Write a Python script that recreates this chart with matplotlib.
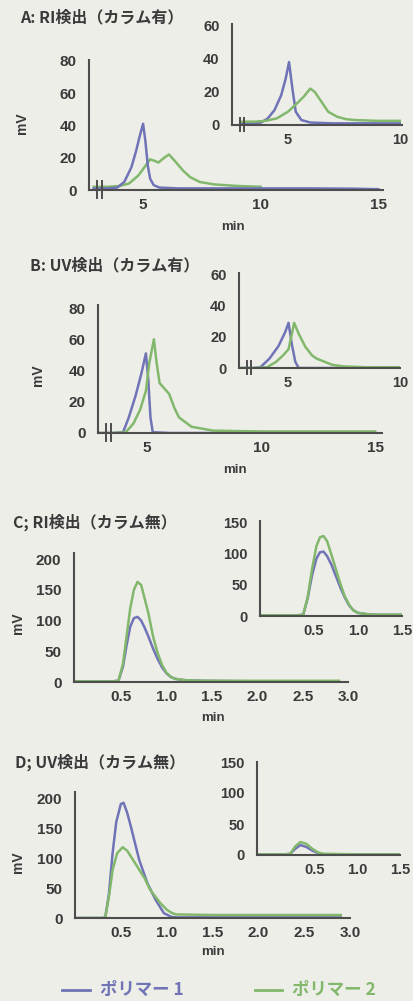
import matplotlib
matplotlib.use("Agg")
import matplotlib.pyplot as plt
from matplotlib.transforms import blended_transform_factory

plt.rcParams["font.family"] = ["Liberation Sans", "Noto Sans CJK JP", "DejaVu Sans"]

# colours
BG = "#eeeee9"
AXC = "#4d4d4d"
TXT = "#3a3a3a"
C1 = "#7073b5"   # polymer 1
C2 = "#82b86c"   # polymer 2

series_names = ["ポリマー 1", "ポリマー 2"]

# ---- A: RI detection, with column (main) ----
a_t1 = [2.9, 3.5, 3.9, 4.2, 4.5, 4.7, 4.85, 5.0, 5.1, 5.2, 5.3, 5.45, 5.7, 6.5, 8, 10, 12, 14, 15]
a_v1 = [1, 1, 1.5, 5, 14, 24, 33, 41, 30, 15, 7, 3, 1.5, 1, 1, 1, 1, 0.8, 0.5]
a_t2 = [2.9, 3.5, 4.0, 4.4, 4.8, 5.1, 5.3, 5.5, 5.65, 5.9, 6.1, 6.35, 6.7, 7.0, 7.4, 8.0, 9.0, 10.0]
a_v2 = [2, 2, 2.5, 4, 9, 15, 19, 18, 17, 20, 22, 18, 12, 8, 5, 3.5, 2.5, 2]
# inset
ai_t1 = [2.9, 3.5, 3.8, 4.1, 4.4, 4.7, 4.9, 5.05, 5.2, 5.35, 5.6, 6.0, 7, 8, 9, 10]
ai_v1 = [1, 1, 1.5, 4, 9, 18, 28, 38, 22, 8, 3, 1.5, 1, 1, 1, 1]
ai_t2 = [2.9, 3.5, 4.0, 4.5, 5.0, 5.4, 5.7, 6.0, 6.2, 6.5, 6.8, 7.2, 7.6, 8.0, 9.0, 10]
ai_v2 = [2, 2, 2.5, 4, 8, 13, 17, 22, 20, 14, 8, 5, 3.5, 3, 2.5, 2.5]

# ---- B: UV detection, with column ----
b_t1 = [2.9, 3.5, 3.95, 4.2, 4.5, 4.75, 4.95, 5.05, 5.15, 5.25, 6, 8, 10, 15]
b_v1 = [0, 0, 0.5, 10, 24, 38, 51, 35, 10, 0.5, 0, 0, 0, 0]
b_t2 = [2.9, 3.5, 4.07, 4.4, 4.7, 4.95, 5.1, 5.3, 5.42, 5.55, 5.97, 6.2, 6.4, 6.95, 7.9, 10, 15]
b_v2 = [0, 0, 0.5, 6, 15, 27, 45, 60, 45, 32, 25, 16, 10, 4, 1.5, 1, 1]
bi_t1 = [2.9, 3.5, 3.8, 4.2, 4.6, 4.9, 5.05, 5.2, 5.35, 5.5, 6, 8, 10]
bi_v1 = [0, 0, 0.5, 6, 14, 23, 29, 15, 4, 0, 0, 0, 0]
bi_t2 = [2.9, 3.5, 4.1, 4.5, 4.8, 5.05, 5.2, 5.3, 5.5, 5.8, 6.1, 6.3, 7.0, 7.5, 8.5, 10]
bi_v2 = [0, 0, 0.5, 4, 8, 12, 22, 29, 22, 13.5, 8, 6, 2, 1, 0.5, 0.5]

# ---- C: RI detection, no column ----
c_t = [0, 0.4, 0.47, 0.52, 0.56, 0.6, 0.64, 0.68, 0.72, 0.76, 0.8, 0.85, 0.9, 0.95, 1.0, 1.05, 1.1, 1.2, 1.4, 2.0, 2.9]
c_v1 = [1, 1, 2, 25, 60, 90, 104, 106, 100, 88, 74, 55, 38, 24, 14, 8, 5, 3, 2, 1, 1]
c_v2 = [1, 1, 2, 30, 75, 120, 150, 163, 158, 135, 112, 75, 48, 28, 15, 8, 5, 3, 2, 2, 2]
ci_t = [-0.1, 0.3, 0.38, 0.43, 0.48, 0.53, 0.57, 0.61, 0.65, 0.7, 0.75, 0.8, 0.85, 0.9, 0.95, 1.0, 1.1, 1.2, 1.5]
ci_v1 = [1, 1, 2, 28, 65, 92, 102, 103, 96, 82, 64, 46, 30, 17, 9, 5, 3, 2, 2]
ci_v2 = [1, 1, 2, 30, 75, 112, 126, 128, 120, 98, 75, 52, 32, 18, 9, 5, 3, 2, 2]

# ---- D: UV detection, no column ----
d_t1 = [0, 0.3, 0.33, 0.37, 0.41, 0.45, 0.5, 0.53, 0.57, 0.61, 0.7, 0.79, 0.88, 0.97, 1.05, 1.1, 1.5, 2.0, 2.9]
d_v1 = [0, 0, 1, 40, 108, 160, 190, 192, 175, 152, 97, 58, 30, 8, 2, 1, 1, 1, 1]
d_t2 = [0, 0.3, 0.33, 0.37, 0.41, 0.46, 0.52, 0.57, 0.62, 0.67, 0.71, 0.76, 0.82, 0.88, 0.93, 1.0, 1.05, 1.1, 1.5, 2.0, 2.9]
d_v2 = [0, 0, 1, 35, 80, 108, 118, 112, 100, 88, 78, 66, 47, 35, 25, 14, 9, 6, 5, 5, 5]
di_t = [-0.15, 0.15, 0.21, 0.27, 0.33, 0.4, 0.47, 0.54, 0.6, 1.0, 1.5]
di_v1 = [1, 1, 2, 10, 16, 13, 7, 3, 1, 1, 1]
di_v2 = [1, 1, 2, 14, 21, 18, 10, 4, 2, 1, 1]

titles = ["A: RI検出（カラム有）", "B: UV検出（カラム有）", "C; RI検出（カラム無）", "D; UV検出（カラム無）"]

W, H = 414, 1001
fig = plt.figure(figsize=(W / 100, H / 100), dpi=100)
fig.patch.set_facecolor(BG)


def px_axes(x0, x1, y_top, y_bot, fs=11):
    # place an axes from pixel box (top-left origin)
    ax = fig.add_axes([x0 / W, 1 - y_bot / H, (x1 - x0) / W, (y_bot - y_top) / H])
    ax.set_facecolor("none")
    for s in ("top", "right"):
        ax.spines[s].set_visible(False)
    for s in ("left", "bottom"):
        ax.spines[s].set_color(AXC)
        ax.spines[s].set_linewidth(1.5)
    ax.tick_params(length=0, labelsize=fs, colors=TXT)
    ax.tick_params(axis="y", pad=9)
    ax.tick_params(axis="x", pad=6)
    return ax


def curves(ax, t1, v1, t2, v2, green_first=False):
    order = [(t2, v2, C2), (t1, v1, C1)] if green_first else [(t1, v1, C1), (t2, v2, C2)]
    for t, v, c in order:
        ax.plot(t, v, color=c, lw=1.8, solid_joinstyle="round")


def brk(ax, xs):
    tr = blended_transform_factory(ax.transData, ax.transAxes)
    for x in xs:
        ax.plot([x, x], [-0.06, 0.07], color=AXC, lw=1.4, transform=tr, clip_on=False)


def bold_ticks(ax):
    for lab in ax.get_xticklabels() + ax.get_yticklabels():
        lab.set_fontweight("bold")


# A main
ax = px_axes(89, 383, 60, 190)
curves(ax, a_t1, a_v1, a_t2, a_v2, green_first=True)
ax.set_xlim(2.7, 15.2)
ax.set_ylim(0, 80.5)
ax.set_xticks([5, 10, 15])
ax.set_yticks([0, 20, 40, 60, 80])
brk(ax, [3.05, 3.25])
bold_ticks(ax)
# A inset
ax = px_axes(232, 402, 24, 125, fs=10.5)
curves(ax, ai_t1, ai_v1, ai_t2, ai_v2)
ax.set_xlim(2.5, 10.1)
ax.set_ylim(0, 61)
ax.set_xticks([5, 10])
ax.set_yticks([0, 20, 40, 60])
brk(ax, [2.85, 3.05])
bold_ticks(ax)

# B main
ax = px_axes(98, 382, 305, 433)
curves(ax, b_t1, b_v1, b_t2, b_v2)
ax.set_xlim(2.85, 15.3)
ax.set_ylim(0, 82)
ax.set_xticks([5, 10, 15])
ax.set_yticks([0, 20, 40, 60, 80])
brk(ax, [3.2, 3.4])
bold_ticks(ax)
# B inset
ax = px_axes(239, 400, 273, 368, fs=10.5)
curves(ax, bi_t1, bi_v1, bi_t2, bi_v2)
ax.set_xlim(2.85, 10.0)
ax.set_ylim(0, 61)
ax.set_xticks([5, 10])
ax.set_yticks([0, 20, 40, 60])
brk(ax, [3.2, 3.4])
bold_ticks(ax)

# C main
ax = px_axes(74, 348, 553, 682)
curves(ax, c_t, c_v1, c_t, c_v2)
ax.set_xlim(-0.02, 2.9)
ax.set_ylim(0, 210)
ax.set_xticks([0.5, 1.0, 1.5, 2.0, 2.5, 3.0])
ax.set_xticklabels(["0.5", "1.0", "1.5", "2.0", "2.5", "3.0"])
ax.set_yticks([0, 50, 100, 150, 200])
bold_ticks(ax)
# C inset
ax = px_axes(260, 402, 521, 616, fs=10.5)
curves(ax, ci_t, ci_v1, ci_t, ci_v2)
ax.set_xlim(-0.11, 1.5)
ax.set_ylim(0, 152)
ax.set_xticks([0.5, 1.0, 1.5])
ax.set_yticks([0, 50, 100, 150])
bold_ticks(ax)

# D main
ax = px_axes(75, 350, 792, 918)
curves(ax, d_t1, d_v1, d_t2, d_v2)
ax.set_xlim(0.0, 2.93)
ax.set_ylim(0, 210)
ax.set_xticks([0.5, 1.0, 1.5, 2.0, 2.5, 3.0])
ax.set_xticklabels(["0.5", "1.0", "1.5", "2.0", "2.5", "3.0"])
ax.set_yticks([0, 50, 100, 150, 200])
bold_ticks(ax)
# D inset
ax = px_axes(257, 400, 762, 855, fs=10.5)
curves(ax, di_t, di_v1, di_t, di_v2)
ax.set_xlim(-0.18, 1.5)
ax.set_ylim(0, 150)
ax.set_xticks([0.5, 1.0, 1.5])
ax.set_yticks([0, 50, 100, 150])
bold_ticks(ax)

# panel titles, axis labels
title_pos = [(20, 17), (30, 265), (13, 522), (15, 762)]
for (x, y), t in zip(title_pos, titles):
    fig.text(x / W, 1 - y / H, t, fontsize=11.5, fontweight="bold", color=TXT,
             va="center", ha="left", family=["Noto Sans CJK JP"])

for x, y in [(22, 123), (38, 375), (18, 623), (18, 862)]:
    fig.text(x / W, 1 - y / H, "mV", rotation=90, fontsize=10, fontweight="bold",
             color=TXT, ha="center", va="center")
for x, y in [(233, 227), (235, 470), (213, 718), (213, 952)]:
    fig.text(x / W, 1 - y / H, "min", fontsize=9.5, fontweight="bold",
             color=TXT, ha="center", va="center")

# legend
for (x0, x1, tx), name, c in zip([(62, 90, 100), (255, 282, 292)], series_names, [C1, C2]):
    fig.add_artist(plt.Line2D([x0 / W, x1 / W], [1 - 990 / H] * 2, color=c, lw=2))
    fig.text(tx / W, 1 - 990 / H, name, fontsize=12.5, fontweight="bold", color=c,
             ha="left", va="center", family=["Noto Sans CJK JP"])

fig.savefig("out.png", dpi=100, facecolor=BG)
